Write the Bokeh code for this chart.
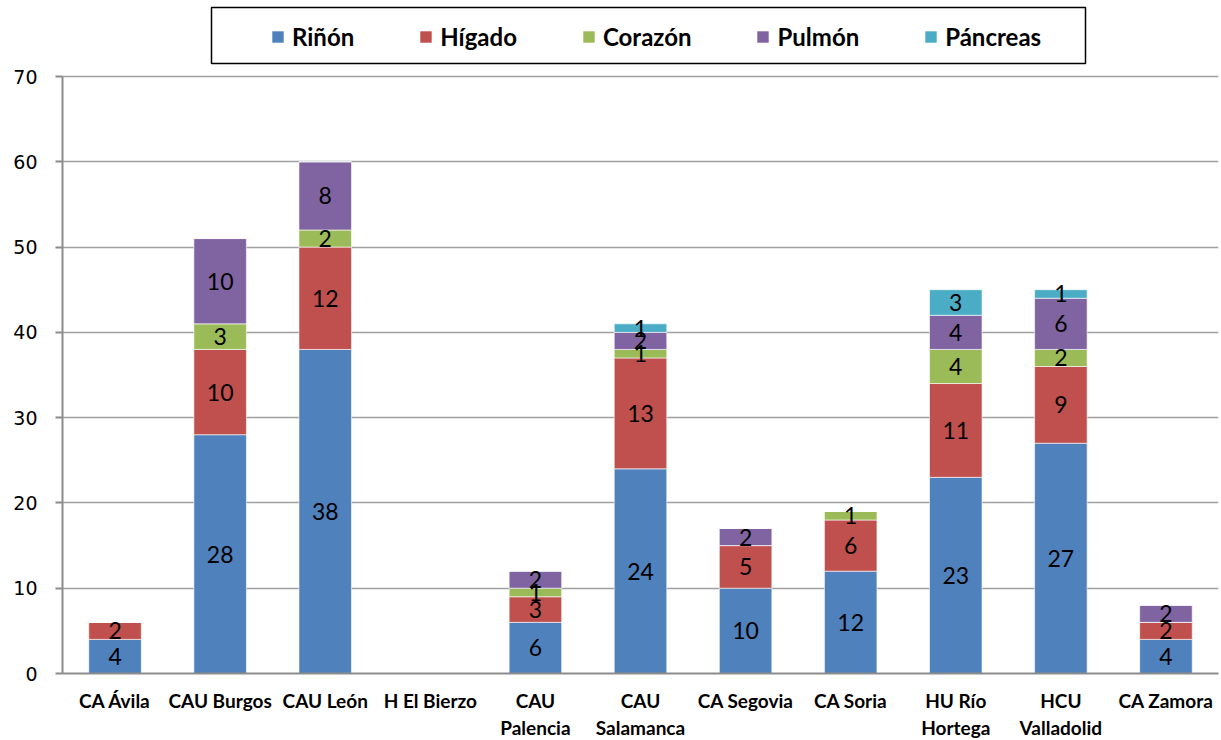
import numpy as np
from bokeh.plotting import figure
from bokeh.models import (ColumnDataSource, FactorRange, Range1d, Legend, LegendItem,
                          SingleIntervalTicker, BoxAnnotation)
from bokeh.core.properties import value
from bokeh.embed import file_html
from bokeh.resources import INLINE

# ---------------- data ----------------
categories = ["CA Ávila", "CAU Burgos", "CAU León", "H El Bierzo", "CAU\nPalencia",
              "CAU\nSalamanca", "CA Segovia", "CA Soria", "HU Río\nHortega",
              "HCU\nValladolid", "CA Zamora"]
organs = ["Riñón", "Hígado", "Corazón", "Pulmón", "Páncreas"]
rinon = [4, 28, 38, 0, 6, 24, 10, 12, 23, 27, 4]
higado = [2, 10, 12, 0, 3, 13, 5, 6, 11, 9, 2]
corazon = [0, 3, 2, 0, 1, 1, 0, 1, 4, 2, 0]
pulmon = [0, 10, 8, 0, 2, 2, 2, 0, 4, 6, 2]
pancreas = [0, 0, 0, 0, 0, 1, 0, 0, 3, 1, 0]
colors = ["#4F81BD", "#C0504D", "#9BBB59", "#8064A2", "#4BACC6"]
y_ticks_max = 70
y_tick_step = 10

series = [rinon, higado, corazon, pulmon, pancreas]

# ---------------- layout ----------------
FRAME_W, FRAME_H = 1156, 673          # frame spans from top of page to the x axis
px_per_unit = 597.0 / y_ticks_max     # 0..70 occupies 597 px
y_end = FRAME_H / px_per_unit         # room above 70 holds the legend

src = ColumnDataSource(data=dict(cat=categories, **{o: s for o, s in zip(organs, series)}))

p = figure(x_range=FactorRange(factors=categories, range_padding=0),
           y_range=Range1d(0, y_end),
           frame_width=FRAME_W, frame_height=FRAME_H,
           output_backend="svg", toolbar_location=None,
           min_border_left=62, min_border_right=2,
           min_border_top=0, min_border_bottom=0)
p.outline_line_color = None
p.background_fill_color = "white"

renderers = p.vbar_stack(organs, x="cat", width=0.5, color=colors, source=src,
                         line_color="white", line_alpha=0.6, line_width=1)

# value labels
lx, ly, lt = [], [], []
base = np.zeros(len(categories))
for s in series:
    arr = np.array(s, dtype=float)
    for i, v in enumerate(arr):
        if v > 0:
            lx.append(categories[i])
            ly.append(base[i] + v / 2.0)
            lt.append(str(int(v)))
    base += arr
lsrc = ColumnDataSource(data=dict(x=lx, y=ly, t=lt))
p.text(x="x", y="y", text="t", source=lsrc, text_align="center", text_baseline="middle",
       text_font=value("Lato"), text_font_size="23px", text_color="black")

# axes
p.yaxis.ticker = SingleIntervalTicker(interval=y_tick_step)
p.yaxis.bounds = (0, y_ticks_max)
p.yaxis.axis_line_color = "#8C8C8C"
p.yaxis.axis_line_width = 2
p.yaxis.major_tick_line_color = "#8C8C8C"
p.yaxis.major_tick_line_width = 2
p.yaxis.major_tick_out = 7
p.yaxis.major_tick_in = 0
p.yaxis.minor_tick_line_color = None
p.yaxis.major_label_text_font = "DejaVu Sans"
p.yaxis.major_label_text_font_size = "19px"
p.yaxis.major_label_text_color = "black"
p.yaxis.major_label_standoff = 18

p.xaxis.axis_line_color = "#8C8C8C"
p.xaxis.axis_line_width = 2
p.xaxis.major_tick_line_color = None
p.xaxis.minor_tick_line_color = None
p.xaxis.major_label_text_font = "Lato"
p.xaxis.major_label_text_font_style = "bold"
p.xaxis.major_label_text_font_size = "19px"
p.xaxis.major_label_text_color = "black"
p.xaxis.major_label_standoff = 9
p.xaxis.major_label_text_line_height = 1.2

p.xgrid.grid_line_color = None
p.ygrid.grid_line_color = "#A0A0A0"
p.ygrid.grid_line_width = 1.5
p.ygrid.bounds = (0, y_ticks_max)

# legend border box (screen units relative to frame bottom-left)
box = BoxAnnotation(left=149, right=1023, bottom=FRAME_H - 63, top=FRAME_H - 7,
                    left_units="screen", right_units="screen",
                    bottom_units="screen", top_units="screen",
                    fill_color="white", fill_alpha=1.0,
                    line_color="black", line_width=1.5, line_alpha=1.0)
p.add_layout(box)

legend = Legend(items=[LegendItem(label=o, renderers=[r]) for o, r in zip(organs, renderers)],
                orientation="horizontal", location=(208, FRAME_H - 51),
                border_line_color=None, background_fill_alpha=0,
                padding=0, margin=0, spacing=64, label_standoff=7,
                glyph_width=15, glyph_height=15,
                label_text_font="Lato", label_text_font_style="bold",
                label_text_font_size="24px", label_text_color="black")
p.add_layout(legend, "center")

open("out.html", "w").write(file_html(p, INLINE))
